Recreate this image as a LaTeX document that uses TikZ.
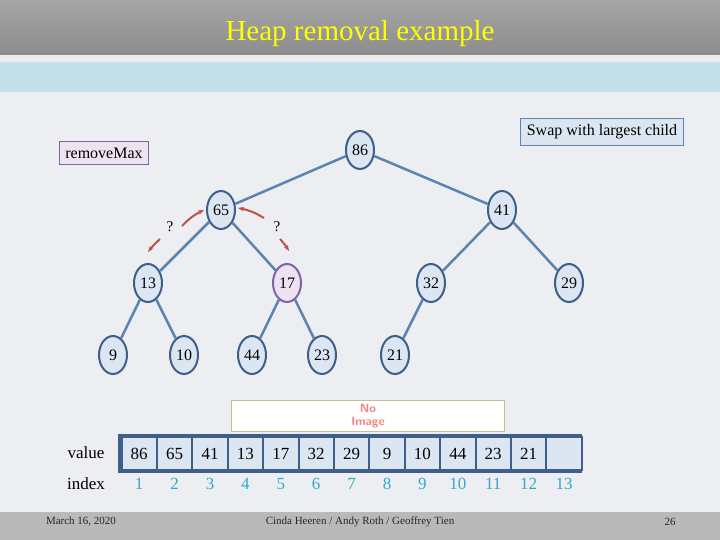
\documentclass[tikz,border=0pt]{standalone}
\usepackage{fontspec}
\setmainfont{Liberation Serif}
\usetikzlibrary{shapes.geometric,arrows.meta,calc}
\definecolor{bgpage}{HTML}{ECEEF2}
\definecolor{nodefill}{HTML}{DCE6F2}
\definecolor{nodeline}{HTML}{3D5F8A}
\definecolor{edgeline}{HTML}{5B84B1}
\definecolor{arrowred}{HTML}{C0504D}
\definecolor{idxcol}{HTML}{31A9C9}
\definecolor{band}{HTML}{C3E1EB}
\definecolor{titleyellow}{HTML}{FFFF00}
\definecolor{purpline}{HTML}{8064A2}
\definecolor{purpfill}{HTML}{ECE2F0}
\definecolor{noimgline}{HTML}{C4BD97}
\definecolor{noimgtext}{HTML}{F08282}
\tikzset{
  heapnode/.style={ellipse,draw=nodeline,line width=2pt,fill=nodefill,minimum width=28pt,minimum height=38pt,inner sep=0pt,font=\fontsize{16}{16}\selectfont},
  edge/.style={draw=edgeline,line width=2.5pt},
  cell/.style={rectangle,draw=nodeline,line width=2pt,fill=nodefill,minimum width=35.4pt,minimum height=33pt,inner sep=0pt,font=\fontsize{17}{17}\selectfont},
  idx/.style={text=idxcol,font=\fontsize{17}{17}\selectfont},
  label box/.style={rectangle,draw=#1,line width=0.8pt,inner sep=6pt,font=\fontsize{16}{16}\selectfont},
  swap/.style={-{Stealth[length=6pt]},draw=arrowred,line width=2pt}
}
\begin{document}
\begin{tikzpicture}[x=1pt,y=-1pt]
\useasboundingbox (0,0) rectangle (720,540);
% background
\fill[bgpage] (0,0) rectangle (720,540);
\fill[top color=gray!70,bottom color=gray!90] (0,0) rectangle (720,55);
\fill[white!85!gray] (0,55) rectangle (720,62);
\fill[band] (0,62) rectangle (720,92);
\fill[gray!55] (0,512) rectangle (720,540);
\node[text=titleyellow,font=\fontsize{29}{29}\selectfont] (title) at (360,34) {Heap removal example};
% tree
\node[heapnode] (n86) at (360,150) {86};
\node[heapnode] (n65) at (221,210) {65};
\node[heapnode] (n41) at (502,210) {41};
\node[heapnode] (n13) at (148,283) {13};
\node[heapnode,draw=purpline,fill=purpfill] (n17) at (287,283) {17};
\node[heapnode] (n32) at (431,283) {32};
\node[heapnode] (n29) at (569,283) {29};
\node[heapnode] (n9) at (113,355) {9};
\node[heapnode] (n10) at (184,355) {10};
\node[heapnode] (n44) at (252,355) {44};
\node[heapnode] (n23) at (322,355) {23};
\node[heapnode] (n21) at (395,355) {21};
\foreach \a/\b in {86/65,86/41,65/13,65/17,41/32,41/29,13/9,13/10,17/44,17/23,32/21}
  \draw[edge] (n\a) -- (n\b);
% swap arrows
\coordinate (la1) at (182,226);
\coordinate (la2) at (160,239);
\coordinate (ra1) at (264,218);
\coordinate (ra2) at (280,239);
\draw[swap] (la1) to[bend left=10] ($(n65.west)+(-2,0)$);
\draw[swap] (la2) to[bend right=5] (148,252);
\draw[swap] (ra1) to[bend right=10] ($(n65.east)+(2,-2)$);
\draw[swap] (ra2) to[bend left=5] (289,251);
\node[font=\fontsize{15}{15}\selectfont] (q1) at (170,227) {?};
\node[font=\fontsize{15}{15}\selectfont] (q2) at (277,227) {?};
% labels
\node[label box=purpline,fill=purpfill] (rm) at (104,153) {removeMax};
\node[label box=edgeline,fill=nodefill] (sw) at (602,132) {Swap with largest child};
\node[draw=noimgline,fill=white,minimum width=273pt,minimum height=31pt] (noimg) at (368,416) {};
\node[text=noimgtext,font=\sffamily\bfseries\fontsize{12}{13}\selectfont,align=center] at (noimg) {No\\Image};
% array
\node[font=\fontsize{17}{17}\selectfont] (vlab) at (86,453) {value};
\node[font=\fontsize{17}{17}\selectfont] (ilab) at (86,484) {index};
\draw[nodeline,line width=2pt,fill=nodeline] (119,435) rectangle (581,472);
\foreach \v [count=\i] in {86,65,41,13,17,32,29,9,10,44,23,21,{}} {
  \node[cell] (c\i) at (121+35.4*\i-17.7+0.5,453.5) {\v};
  \node[idx] (i\i) at (121+35.4*\i-17.7+0.5,484) {\i};
}
% footer
\node[text=gray!30!black,font=\fontsize{11}{11}\selectfont] (date) at (81,522) {March 16, 2020};
\node[text=gray!30!black,font=\fontsize{11}{11}\selectfont] (auth) at (360,522) {Cinda Heeren / Andy Roth / Geoffrey Tien};
\node[text=gray!30!black,font=\fontsize{11}{11}\selectfont] (page) at (670,522) {26};
\end{tikzpicture}
\end{document}
